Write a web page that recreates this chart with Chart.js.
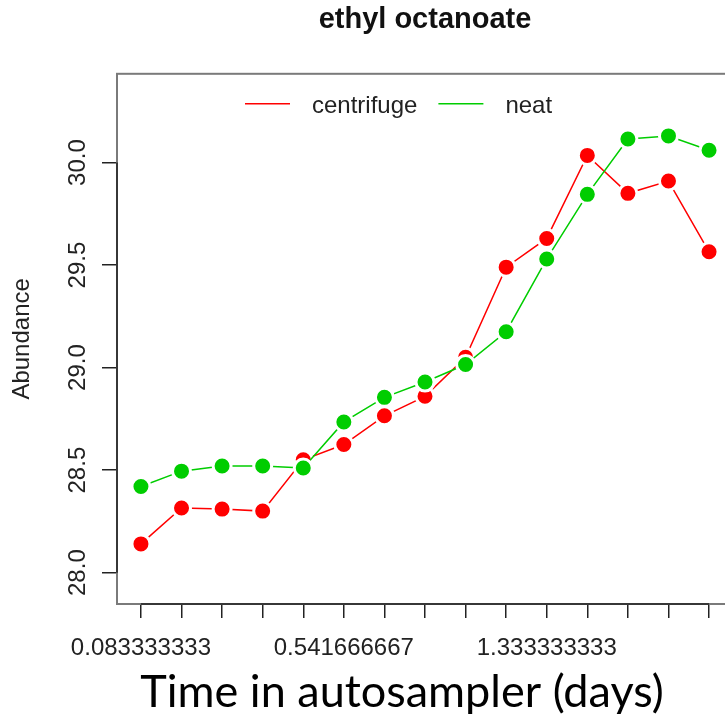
<!DOCTYPE html>
<html>
<head>
<meta charset="utf-8">
<script src="https://cdn.jsdelivr.net/npm/chart.js@4.4.1/dist/chart.umd.min.js"></script>
<style>
  html, body { margin: 0; padding: 0; background: #fff; overflow: hidden; }
  #wrap { position: relative; width: 745px; height: 714px; }
</style>
</head>
<body>
<div id="wrap"><canvas id="chart"></canvas></div>
<script>
// values
const timeLabels = ['0.083333333', '', '', '', '', '0.541666667', '', '', '', '', '1.333333333', '', '', '', ''];
const centrifuge = [28.14, 28.315, 28.31, 28.30, 28.55, 28.625, 28.765, 28.86, 29.05, 29.49, 29.63, 30.035, 29.85, 29.91, 29.565];
const neat = [28.42, 28.495, 28.52, 28.52, 28.51, 28.735, 28.855, 28.93, 29.015, 29.175, 29.53, 29.845, 30.115, 30.13, 30.06];
const yTicks = [28.0, 28.5, 29.0, 29.5, 30.0];

const titleText = 'ethyl octanoate';
const xTitle = 'Time in autosampler (days)';
const yTitle = 'Abundance';

Chart.defaults.font.family = "'Liberation Sans', Arial, sans-serif";
Chart.defaults.color = '#222';

const toPoints = (arr) => arr.map((v, i) => ({ x: i + 1, y: v }));

// box around the plot + axis segments like base R
const boxPlugin = {
  id: 'rbox',
  beforeDatasetsDraw(chart) {
    const { ctx, chartArea: a, scales } = chart;
    ctx.save();
    ctx.strokeStyle = '#7a7a7a';
    ctx.lineWidth = 2;
    ctx.strokeRect(a.left, a.top, a.right - a.left, a.bottom - a.top);
    ctx.strokeStyle = '#222';
    ctx.lineWidth = 1.5;
    ctx.beginPath();
    ctx.moveTo(a.left, scales.y.getPixelForValue(yTicks[0]));
    ctx.lineTo(a.left, scales.y.getPixelForValue(yTicks[yTicks.length - 1]));
    ctx.moveTo(scales.x.getPixelForValue(1), a.bottom);
    ctx.lineTo(scales.x.getPixelForValue(timeLabels.length), a.bottom);
    ctx.stroke();
    ctx.restore();
  }
};

// legend inside the plot, line keys only
const legendPlugin = {
  id: 'rlegend',
  afterDraw(chart) {
    const { ctx, chartArea: a } = chart;
    ctx.save();
    ctx.font = "24px 'Liberation Sans', Arial, sans-serif";
    ctx.textBaseline = 'alphabetic';
    ctx.textAlign = 'left';
    let x = a.left + 128;
    const y = a.top + 30;
    chart.data.datasets.forEach(ds => {
      ctx.strokeStyle = ds.borderColor;
      ctx.lineWidth = 1.5;
      ctx.beginPath();
      ctx.moveTo(x, y);
      ctx.lineTo(x + 45, y);
      ctx.stroke();
      ctx.fillStyle = '#222';
      ctx.fillText(ds.label, x + 67, y + 9);
      x += 67 + ctx.measureText(ds.label).width + 21;
    });
    ctx.restore();
  }
};

// x title was set in a different font, offset from the plot centre
const xTitlePlugin = {
  id: 'xtitle',
  afterDraw(chart) {
    const { ctx } = chart;
    ctx.save();
    ctx.font = "45px Lato, 'Open Sans', sans-serif";
    ctx.fillStyle = '#000';
    ctx.textAlign = 'center';
    ctx.textBaseline = 'alphabetic';
    ctx.fillText(xTitle, 402, 707);
    ctx.restore();
  }
};

new Chart(document.getElementById('chart'), {
  type: 'line',
  data: {
    datasets: [
      {
        label: 'centrifuge',
        data: toPoints(centrifuge),
        borderColor: '#ff0000',
        backgroundColor: '#ff0000',
        pointBackgroundColor: '#ff0000',
        pointBorderColor: '#ffffff',
        order: 1
      },
      {
        label: 'neat',
        data: toPoints(neat),
        borderColor: '#00cd00',
        backgroundColor: '#00cd00',
        pointBackgroundColor: '#00cd00',
        pointBorderColor: '#ffffff',
        order: 0
      }
    ]
  },
  options: {
    responsive: true,
    maintainAspectRatio: false,
    animation: false,
    events: [],
    layout: { padding: { left: 0, right: 12, top: 0, bottom: 0 } },
    elements: {
      line: { borderWidth: 1.5, tension: 0 },
      point: { radius: 9, borderWidth: 3 }
    },
    plugins: {
      legend: { display: false },
      tooltip: { enabled: false },
      title: {
        display: true,
        text: titleText,
        fullSize: false,
        color: '#111',
        font: { size: 29, weight: 'bold' },
        padding: { top: 3, bottom: 36 }
      }
    },
    scales: {
      x: {
        type: 'linear',
        min: 0.41,
        max: 15.59,
        afterBuildTicks: (scale) => {
          scale.ticks = timeLabels.map((t, i) => ({ value: i + 1 }));
        },
        afterFit: (scale) => { scale.height = 110; },
        ticks: {
          autoSkip: false,
          maxRotation: 0,
          padding: 16,
          font: { size: 24 },
          color: '#222',
          callback: (value, index) => timeLabels[index]
        },
        grid: { drawOnChartArea: false, tickLength: 14, color: '#222', lineWidth: 1.5 },
        border: { display: false }
      },
      y: {
        min: 27.847,
        max: 30.433,
        afterBuildTicks: (scale) => {
          scale.ticks = yTicks.map(v => ({ value: v }));
        },
        afterFit: (scale) => { scale.width = 117; },
        ticks: {
          minRotation: 90,
          maxRotation: 90,
          crossAlign: 'center',
          padding: 0,
          font: { size: 24 },
          color: '#222',
          callback: (value) => value.toFixed(1)
        },
        grid: { drawOnChartArea: false, tickLength: 15, color: '#222', lineWidth: 1.5 },
        border: { display: false },
        title: {
          display: true,
          text: yTitle,
          color: '#222',
          font: { size: 24 },
          padding: { top: 8, bottom: 0 }
        }
      }
    }
  },
  plugins: [boxPlugin, legendPlugin, xTitlePlugin]
});
</script>
</body>
</html>
